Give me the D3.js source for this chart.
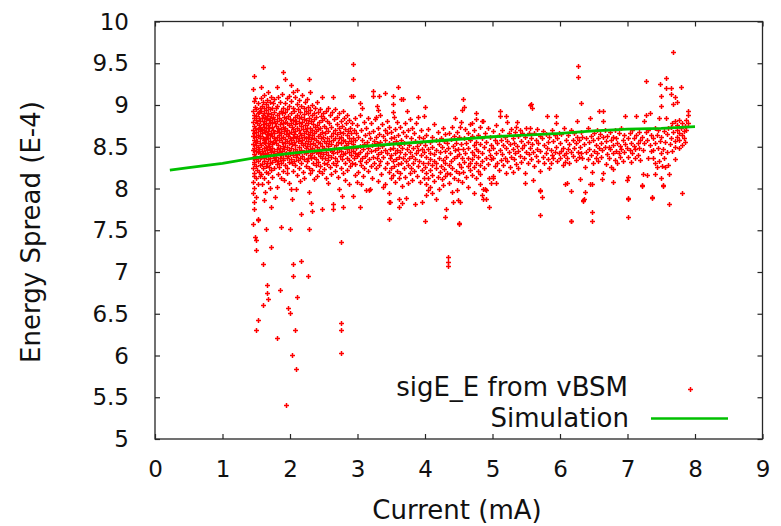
<!DOCTYPE html>
<html><head><meta charset="utf-8">
<script src="https://cdn.jsdelivr.net/npm/d3@7"></script>
<style>
html,body{margin:0;padding:0;background:#fff;}
svg{display:block;font-family:"DejaVu Sans",sans-serif;}
</style></head><body>
<svg id="chart" width="781" height="526"></svg>
<script>
// ---- data ----
const xTicks = [0,1,2,3,4,5,6,7,8,9];
const xTickLabels = ["0","1","2","3","4","5","6","7","8","9"];
const yTicks = [5,5.5,6,6.5,7,7.5,8,8.5,9,9.5,10];
const yTickLabels = ["5","5.5","6","6.5","7","7.5","8","8.5","9","9.5","10"];
const xTitle = "Current (mA)";
const yTitle = "Energy Spread (E-4)";
const seriesNames = ["sigE_E from vBSM","Simulation"];

const simCurrent = [0.22,0.5,1.0,1.5,2.0,2.5,3.0,3.5,4.0,4.5,5.0,5.5,6.0,6.5,7.0,7.5,8.0];
const simSpread  = [8.22,8.25,8.30,8.37,8.42,8.46,8.50,8.53,8.56,8.59,8.62,8.64,8.66,8.69,8.71,8.72,8.74];

// vBSM measurements: [current, spread, spread, ...] for each current reading
const vbsmColumns = [
[1.45,9.19,8.93,8.80,8.70,8.63,8.53,8.46,8.36,8.24,8.08,7.95,7.57],
[1.46,9.05,8.88,8.75,8.58,8.41,8.29,8.15,7.84,7.76],
[1.47,9.35,8.84,8.66,8.49,8.32,8.19,8.01],
[1.48,9.08,8.98,8.72,8.56,8.39,7.42],
[1.49,8.82,8.62,8.45,8.27,8.12,7.38,7.26,6.30],
[1.50,8.95,8.87,8.68,8.52,8.35,7.90],
[1.51,8.78,8.57,8.22],
[1.52,8.90,8.64,8.44,8.05,6.43],
[1.53,9.02,8.71,8.50,8.33,7.62,7.63],
[1.54,8.92,8.85,8.76,8.47,8.20],
[1.55,8.69,8.63,8.60,8.42,8.28],
[1.56,8.97,8.81,8.73,8.55,8.37,8.15],
[1.57,9.08,8.93,8.71,8.52,8.38,8.17,9.21],
[1.58,8.99,8.84,8.66,8.45,8.29,8.05],
[1.60,9.46,9.03,8.88,8.77,8.61,8.41,8.24,7.10,6.60],
[1.61,8.96,8.81,8.70,8.56,8.33,7.86],
[1.62,9.12,8.91,8.74,8.58,8.48,8.36,8.12],
[1.63,8.86,8.68,8.54,8.43,7.96],
[1.64,9.01,8.79,8.62,8.50,8.27],
[1.65,8.94,8.83,8.72,8.59,8.39,8.20,7.51],
[1.66,9.06,8.87,8.65,8.46,8.31,6.84,6.75],
[1.67,8.98,8.76,8.55,8.41,8.08],
[1.68,9.15,8.90,8.69,8.60,8.35,8.18,6.68],
[1.69,8.82,8.73,8.51,8.26],
[1.70,9.04,8.85,8.64,8.47,8.30,8.01],
[1.71,8.95,8.78,8.57,8.37],
[1.72,9.10,8.89,8.67,8.44,8.22,7.78,7.30],
[1.73,8.80,8.63,8.53,8.32],
[1.74,8.97,8.74,8.49,8.14],
[1.75,9.02,8.86,8.70,8.56,8.40],
[1.76,8.92,8.61,8.36,8.25],
[1.77,9.07,8.83,8.66,8.45],
[1.78,8.79,8.58,8.34,7.90],
[1.79,8.96,8.75,8.55,8.38],
[1.80,9.21,8.88,8.69,8.47,8.29,8.02],
[1.81,8.99,8.81,8.62,8.42,6.21],
[1.82,9.09,8.73,8.52,8.33,8.17],
[1.83,8.91,8.64,8.44],
[1.84,8.85,8.68,8.58,8.26],
[1.85,9.04,8.77,8.49,8.36,6.78],
[1.86,8.93,8.71,8.60,8.40,7.54],
[1.87,8.82,8.66,8.31,8.13],
[1.88,9.13,8.90,8.56,8.45],
[1.89,8.79,8.62,8.37,8.21],
[1.90,9.39,8.97,8.74,8.51,8.34],
[1.91,8.86,8.69,8.47,8.10],
[1.92,9.31,9.02,8.80,8.59,8.41],
[1.93,8.92,8.72,8.54,8.28],
[1.94,8.84,8.65,8.43,5.41],
[1.95,9.08,8.78,8.57,8.36,8.19],
[1.96,8.95,8.70,8.50,8.25],
[1.97,8.87,8.63,8.39,6.57],
[1.98,9.11,8.76,8.55,8.32],
[1.99,8.99,8.67,8.46,8.06],
[2.00,8.83,8.61,8.42,7.52,6.51],
[2.01,9.05,8.79,8.58,8.35],
[2.02,9.24,8.90,8.68,8.48,7.99],
[2.03,8.74,8.53,8.31,7.87,6.01],
[2.04,8.97,8.82,8.62,8.44],
[2.05,9.15,8.71,8.40,8.21,7.10,6.95],
[2.06,8.93,8.65,8.56,8.33],
[2.07,8.86,8.77,8.47,6.30],
[2.08,9.09,8.69,8.52,8.28],
[2.09,8.81,8.60,8.38,7.99,5.84],
[2.10,9.01,8.73,8.45,8.16,6.70],
[2.11,9.18,8.88,8.63,8.41],
[2.12,8.95,8.57,8.34],
[2.13,8.84,8.70,8.50,8.24],
[2.14,9.06,8.78,8.61,8.43],
[2.15,8.92,8.66,8.36,8.09],
[2.16,8.99,8.75,8.54,7.69],
[2.17,8.86,8.64,8.46,8.30,7.13],
[2.18,9.12,8.80,8.58,8.39],
[2.19,8.71,8.52,8.20],
[2.20,8.96,8.83,8.62,8.44],
[2.21,8.89,8.67,8.35,8.13],
[2.22,9.03,8.76,8.55],
[2.23,8.93,8.69,8.48,8.27],
[2.24,8.82,8.60,8.42],
[2.25,9.07,8.73,8.51,8.33],
[2.26,8.90,8.65,8.45,6.95],
[2.27,8.98,8.79,8.57,8.37],
[2.28,9.31,8.85,8.62,8.25,7.96,7.52],
[2.29,8.72,8.53,8.40],
[2.30,9.16,8.94,8.68,8.47,8.18],
[2.31,8.81,8.59,8.36,7.83],
[2.32,8.88,8.70,8.49,7.73],
[2.33,9.00,8.64,8.43,8.22],
[2.34,8.77,8.55,8.31],
[2.35,8.91,8.66,8.46],
[2.36,8.83,8.61,8.38,8.11],
[2.37,8.97,8.74,8.52],
[2.38,8.69,8.44,8.28],
[2.39,8.86,8.58,8.35],
[2.40,9.03,8.76,8.50,8.15],
[2.41,8.63,8.42],
[2.42,8.92,8.71,8.56,8.32],
[2.43,8.80,8.47,8.21],
[2.44,8.95,8.65,8.39],
[2.45,8.73,8.54,8.27],
[2.46,8.87,8.60,8.44],
[2.47,9.10,8.68,8.36,7.76],
[2.48,8.82,8.51,8.19],
[2.49,8.91,8.62,8.41],
[2.50,8.75,8.57,8.30],
[2.51,8.84,8.48,8.23],
[2.52,8.66,8.37],
[2.53,8.93,8.55,8.12],
[2.54,8.72,8.44],
[2.55,8.81,8.60,8.29],
[2.56,8.97,8.51,8.34],
[2.57,8.69,8.40,8.06],
[2.58,8.78,8.57],
[2.59,8.88,8.46,8.26],
[2.60,8.63,8.38],
[2.61,8.74,8.53,8.17],
[2.62,8.92,8.45],
[2.63,9.10,8.67,8.31,7.81],
[2.64,8.58,8.42,7.75],
[2.65,8.83,8.49],
[2.66,8.70,8.36,8.21],
[2.67,8.95,8.61],
[2.68,8.52,8.28],
[2.69,8.77,8.44],
[2.70,8.86,8.65,8.33],
[2.71,8.56,8.14],
[2.72,8.73,8.47],
[2.73,8.90,8.60,8.00],
[2.74,8.68,8.39],
[2.75,8.81,8.54,8.25],
[2.76,8.62,8.45,7.36,6.39,6.30,6.03],
[2.77,8.75,8.35,7.91],
[2.78,8.93,8.58,7.78],
[2.79,8.66,8.41,8.18],
[2.80,8.84,8.50],
[2.81,8.71,8.30],
[2.82,8.57,8.43,8.10],
[2.83,8.79,8.52],
[2.84,8.64,8.37],
[2.85,8.88,8.47,8.22],
[2.86,8.69,8.55],
[2.87,8.60,8.34],
[2.88,8.82,8.44,8.05],
[2.89,8.73,8.27],
[2.90,9.11,8.57,8.40],
[2.91,8.66,8.48],
[2.92,8.78,8.31],
[2.93,9.49,9.31,8.61,8.45],
[2.94,9.11,8.53,7.91],
[2.95,8.70,8.36],
[2.96,8.85,8.43,8.16],
[2.97,8.58,8.29],
[2.98,8.67,8.49],
[2.99,8.76,8.39,8.08],
[3.01,8.62,8.41,8.20],
[3.03,8.88,8.51,8.33],
[3.04,9.02,8.44,7.78],
[3.05,8.70,8.28,8.05],
[3.07,8.96,8.58,8.37],
[3.08,8.47,8.15],
[3.10,8.80,8.53,8.25],
[3.11,8.64,8.39],
[3.13,8.73,8.32,7.98],
[3.14,8.56,8.43],
[3.16,8.85,8.48,8.21],
[3.17,8.67,8.35,7.98],
[3.18,8.60,7.99],
[3.20,8.78,8.45,8.27],
[3.21,8.52,8.12],
[3.23,9.17,9.11,8.69,8.38],
[3.24,8.57,8.30],
[3.26,8.83,8.46],
[3.27,8.86,8.62,8.24],
[3.29,8.99,8.54,8.36],
[3.30,8.72,8.41,8.09],
[3.31,8.94,8.49],
[3.32,9.11,8.65,8.28],
[3.34,8.88,8.56,8.33],
[3.35,8.44,8.17],
[3.37,8.77,8.51],
[3.38,8.63,8.38,8.02],
[3.40,9.14,8.70,8.46],
[3.41,8.58,8.25,8.05],
[3.43,8.81,8.42],
[3.44,8.67,8.31],
[3.46,8.54,8.20,7.95,7.64],
[3.47,8.74,7.84],
[3.48,8.47,8.36,7.84],
[3.49,8.61,8.13],
[3.50,8.68,8.40,8.24],
[3.52,8.92,8.55,8.33],
[3.53,9.11,9.01,8.48,8.16],
[3.54,8.86,8.62,8.27],
[3.56,8.71,8.43,8.08],
[3.57,8.57,8.35],
[3.59,8.80,8.46,8.21],
[3.60,9.22,8.64,8.29],
[3.61,8.52,8.12,7.78],
[3.62,8.38,7.87],
[3.63,8.74,8.44,8.19],
[3.65,9.07,8.58,8.31],
[3.66,8.49,8.03,7.83],
[3.67,9.07,8.68,8.36],
[3.69,8.55,8.24],
[3.70,8.78,8.41,8.14],
[3.72,8.63,8.33,7.89],
[3.73,8.93,8.47],
[3.75,8.70,8.28,8.06],
[3.76,8.52,8.37],
[3.78,8.83,8.44,8.18],
[3.79,8.60,8.25],
[3.81,8.73,8.39,8.10],
[3.82,8.48,8.30],
[3.84,8.66,8.21],
[3.85,8.57,8.35,7.81],
[3.87,8.79,8.42],
[3.88,8.51,8.15],
[3.90,9.09,8.86,8.46,8.27],
[3.91,8.62,8.33],
[3.93,8.55,8.08],
[3.94,8.70,8.40],
[3.95,8.47,8.22,7.84],
[3.97,8.61,8.31],
[3.98,8.87,8.44,8.13],
[4.00,8.98,8.52,8.26,7.61],
[4.01,8.38,8.05],
[4.02,8.64,8.19,7.92],
[4.04,8.47,8.30,7.98],
[4.05,8.71,8.12],
[4.07,8.56,8.35,8.02],
[4.08,8.43,8.22],
[4.10,8.62,8.28],
[4.11,8.50,8.16,7.95],
[4.13,8.77,8.33],
[4.14,8.41,8.09],
[4.16,8.58,8.24,7.87],
[4.17,8.46,8.31],
[4.19,8.68,8.14],
[4.20,8.53,8.37,8.00],
[4.22,8.44,8.20],
[4.23,8.61,8.27],
[4.25,8.50,8.11],
[4.26,8.72,8.34,8.04],
[4.28,8.57,8.23],
[4.29,8.45,8.15],
[4.30,8.65,8.30,7.66],
[4.31,8.38,7.76],
[4.33,8.55,8.19],
[4.34,8.48,7.18,7.12,7.07],
[4.36,8.66,8.28,8.07],
[4.37,8.42,8.17],
[4.39,8.59,8.33],
[4.40,8.74,8.25,7.96],
[4.41,8.51,7.84],
[4.43,8.63,8.36,8.12],
[4.44,8.84,8.46],
[4.46,8.55,8.21],
[4.47,8.68,8.39,7.98],
[4.49,8.47,8.10,7.86],
[4.50,8.62,8.29,7.59],
[4.51,8.41,8.18,7.58],
[4.52,8.74,7.84],
[4.54,8.80,8.53,8.26],
[4.55,8.94,8.36,8.08],
[4.57,9.07,8.47,8.20],
[4.58,8.98,8.60,8.32],
[4.60,8.71,8.42],
[4.61,8.55,8.14],
[4.63,8.66,8.27],
[4.64,8.49,8.37,8.02],
[4.66,8.77,8.22],
[4.67,8.58,8.31],
[4.69,8.78,8.44,8.16],
[4.70,8.63,8.35],
[4.72,8.52,8.26,7.95],
[4.73,8.70,8.40],
[4.75,8.83,8.47,8.12],
[4.76,8.90,8.56,8.30],
[4.78,8.64,8.21],
[4.79,8.45,8.38],
[4.81,8.74,8.28,8.05],
[4.82,8.53,8.17],
[4.84,8.81,8.42],
[4.85,8.60,8.33,7.92],
[4.86,8.81,7.99,7.88],
[4.88,8.50,8.24],
[4.89,8.67,8.00],
[4.90,8.37,7.98],
[4.91,8.56,7.88],
[4.93,8.73,8.29],
[4.95,8.46,8.13,7.78],
[4.96,8.62,8.40],
[4.98,8.52,8.35,8.07],
[5.00,8.69,8.36,8.15],
[5.01,8.48,8.12],
[5.03,8.58,8.27],
[5.05,8.76,8.43,8.06],
[5.07,8.54,8.31],
[5.09,8.64,8.22],
[5.11,8.93,8.87,8.46],
[5.12,8.58,8.34],
[5.14,8.70,8.41],
[5.16,8.52,8.28],
[5.18,8.62,8.37],
[5.20,8.87,8.49,8.19],
[5.22,8.80,8.57,8.33],
[5.24,8.66,8.44],
[5.26,8.53,8.26],
[5.28,8.71,8.38],
[5.30,8.60,8.47,8.20],
[5.32,8.55,8.35],
[5.34,8.68,8.42],
[5.35,8.74,8.29],
[5.36,8.80,8.51],
[5.38,8.63,8.45,8.24],
[5.40,8.70,8.39],
[5.42,8.57,8.32],
[5.44,8.66,8.48],
[5.46,8.52,8.36],
[5.48,8.62,8.18,8.06],
[5.50,8.72,8.44],
[5.52,8.56,8.30],
[5.54,8.67,8.41],
[5.56,9.00,8.72,8.49],
[5.57,9.01,8.60,8.35],
[5.59,8.96,8.53],
[5.60,8.44,8.10],
[5.62,8.66,8.27],
[5.64,8.58,8.39],
[5.66,8.71,8.47],
[5.68,8.54,8.33],
[5.70,8.63,8.21,7.98],
[5.71,8.45,7.97,7.68],
[5.73,8.60,7.90],
[5.75,8.69,8.38],
[5.77,8.52,8.30],
[5.79,8.65,8.42],
[5.81,8.87,8.48],
[5.82,8.56,8.35],
[5.84,8.62,8.24],
[5.86,8.46,8.31],
[5.88,8.70,8.40],
[5.90,8.57,8.36],
[5.92,8.64,8.44],
[5.94,8.87,8.79,8.50],
[5.96,8.60,8.33],
[5.98,8.67,8.42],
[6.00,8.55,8.37],
[6.02,8.65,8.45],
[6.04,8.48,8.28],
[6.06,8.72,8.40],
[6.07,8.32,8.05],
[6.09,8.58,8.43],
[6.10,8.36,8.06],
[6.12,8.64,8.47],
[6.14,8.53,8.30],
[6.16,8.44,7.97,7.61],
[6.17,8.70,7.61],
[6.19,8.58,8.39],
[6.21,8.66,8.48],
[6.23,8.55,8.34],
[6.25,8.81,8.62],
[6.26,9.47,9.34,8.44],
[6.28,8.58,8.38],
[6.29,8.50,8.11],
[6.31,9.02,8.68,8.42],
[6.33,8.62,8.36],
[6.34,7.86,7.85],
[6.36,8.53,7.88],
[6.37,8.26,7.96],
[6.39,8.61,8.44],
[6.41,8.73,8.35],
[6.43,8.56,8.47],
[6.44,8.84,8.05],
[6.46,8.63,8.40],
[6.47,8.20,8.05,7.72,7.61],
[6.49,8.58,8.30],
[6.51,8.66,8.45],
[6.53,8.52,8.37],
[6.55,8.70,8.43],
[6.57,8.60,8.33],
[6.58,8.93,8.48],
[6.59,8.65],
[6.61,8.55,8.38],
[6.62,8.46,8.11],
[6.63,8.81,8.62],
[6.64,8.93,8.18],
[6.66,8.70,8.50],
[6.68,8.57,8.29],
[6.70,8.63,8.41],
[6.72,8.50,8.36],
[6.74,8.68,8.47],
[6.76,8.58,8.26],
[6.78,8.62,8.43,8.08],
[6.79,8.52,8.23],
[6.81,8.70,8.34],
[6.83,8.60,8.45],
[6.85,8.55,8.30],
[6.87,8.66,8.42],
[6.89,8.51,8.38],
[6.91,8.72,8.47],
[6.93,8.58,8.33],
[6.95,8.64,8.44],
[6.97,8.87,8.53],
[6.99,8.48,8.10],
[7.00,8.60,8.14,7.89,7.66],
[7.01,8.38,7.88],
[7.03,8.66,8.46],
[7.05,8.55,8.32],
[7.07,8.70,8.43],
[7.09,8.60,8.51],
[7.11,8.47,8.36],
[7.13,8.87,8.64],
[7.15,8.55,8.40],
[7.17,8.68,8.49],
[7.19,8.58,8.34],
[7.21,8.62,8.04,8.03],
[7.23,8.46,8.17],
[7.25,8.81,8.55],
[7.27,9.29,8.88,8.68],
[7.29,8.58,8.16],
[7.31,8.70,8.37],
[7.33,8.90,8.52],
[7.35,8.64,8.45],
[7.36,7.90,7.89],
[7.38,8.60,8.46,8.36],
[7.40,8.72,8.30],
[7.41,8.55,8.17],
[7.43,8.64,8.26],
[7.45,8.70,8.48],
[7.46,8.85,8.33],
[7.48,9.25,8.57],
[7.49,9.11,8.42],
[7.50,8.99,8.62,8.13],
[7.51,8.27],
[7.52,8.47,8.04,8.03],
[7.54,8.69,8.36],
[7.55,8.56,8.26],
[7.57,9.32,9.20,8.84],
[7.59,8.65,8.44],
[7.60,8.72,8.28],
[7.62,8.17,7.81],
[7.63,8.53],
[7.64,9.13,8.74],
[7.65,9.20,8.60],
[7.66,8.78,8.45],
[7.68,9.63,9.01,8.68],
[7.70,9.10,8.81,8.50],
[7.71,8.57,8.35],
[7.73,8.70,8.62],
[7.74,9.03,8.76],
[7.76,8.66,8.48],
[7.77,8.82,8.58],
[7.79,9.22,8.72],
[7.80,8.78,8.64],
[7.81,8.52,7.95],
[7.83,8.69,8.61],
[7.85,8.75,8.56],
[7.87,8.82,8.70],
[7.89,8.93,8.88,8.79]
];

// ---- layout ----
const plotLeft = 155, plotRight = 762.5, plotTop = 21.5, plotBottom = 439;
const axisColor = "#262626";
const red = "#ff0000", green = "#00c000";

const x = d3.scaleLinear().domain([0, 9]).range([plotLeft, plotRight]);
const y = d3.scaleLinear().domain([5, 10]).range([plotBottom, plotTop]);
const svg = d3.select("#chart");

// points (small "+" marks)
const points = vbsmColumns.flatMap(c => c.slice(1).map(v => [c[0], v]));
const plus = "M-2.5,0H2.5M0,-2.5V2.5";
svg.append("g").selectAll("path").data(points).join("path")
  .attr("d", plus)
  .attr("transform", d => `translate(${Math.round(x(d[0])) + 0.5},${Math.round(y(d[1])) + 0.5})`)
  .attr("stroke", red).attr("stroke-width", 1.5).attr("fill", "none");

// simulation line
const sim = simCurrent.map((c, i) => [c, simSpread[i]]);
svg.append("path").datum(sim)
  .attr("d", d3.line().x(d => x(d[0])).y(d => y(d[1])))
  .attr("fill", "none").attr("stroke", green).attr("stroke-width", 2.8);

// axes
function styleAxis(g) {
  g.attr("font-size", null).attr("font-family", null);
  g.select(".domain").remove();
  g.selectAll(".tick line").attr("stroke", axisColor).attr("stroke-width", 1.2);
  g.selectAll(".tick text").attr("fill", "#111").style("font-size", "23px");
}
const gx = svg.append("g").attr("transform", `translate(0,${plotBottom})`)
  .call(d3.axisBottom(x).tickValues(xTicks).tickFormat((d, i) => xTickLabels[i]).tickSize(-5));
styleAxis(gx);
gx.selectAll(".tick text").attr("dy", null).attr("y", 38);

const gxt = svg.append("g").attr("transform", `translate(0,${plotTop})`)
  .call(d3.axisTop(x).tickValues(xTicks).tickFormat("").tickSize(-5));
styleAxis(gxt);

const gy = svg.append("g").attr("transform", `translate(${plotLeft},0)`)
  .call(d3.axisLeft(y).tickValues(yTicks).tickFormat((d, i) => yTickLabels[i]).tickSize(-5));
styleAxis(gy);
gy.selectAll(".tick text").attr("dy", null).attr("x", -26).attr("y", 7.5);

const gyr = svg.append("g").attr("transform", `translate(${plotRight},0)`)
  .call(d3.axisRight(y).tickValues(yTicks).tickFormat("").tickSize(-5));
styleAxis(gyr);

// frame
svg.append("rect").attr("x", plotLeft).attr("y", plotTop)
  .attr("width", plotRight - plotLeft).attr("height", plotBottom - plotTop)
  .attr("fill", "none").attr("stroke", axisColor).attr("stroke-width", 1.3);

// titles
svg.append("text").attr("x", 457).attr("y", 519).attr("text-anchor", "middle")
  .attr("fill", "#111").style("font-size", "26px").text(xTitle);
svg.append("text").attr("transform", "translate(40,232) rotate(-90)").attr("text-anchor", "middle")
  .attr("fill", "#111").style("font-size", "26px").text(yTitle);

// legend
svg.append("text").attr("x", 628).attr("y", 396).attr("text-anchor", "end")
  .attr("fill", "#111").style("font-size", "26px").text(seriesNames[0]);
svg.append("path").attr("d", plus).attr("transform", "translate(690.5,389.5)")
  .attr("stroke", red).attr("stroke-width", 1.5).attr("fill", "none");
svg.append("text").attr("x", 629).attr("y", 427).attr("text-anchor", "end")
  .attr("fill", "#111").style("font-size", "26px").text(seriesNames[1]);
svg.append("line").attr("x1", 651).attr("x2", 728).attr("y1", 418.5).attr("y2", 418.5)
  .attr("stroke", green).attr("stroke-width", 2.5);
</script>
</body></html>
